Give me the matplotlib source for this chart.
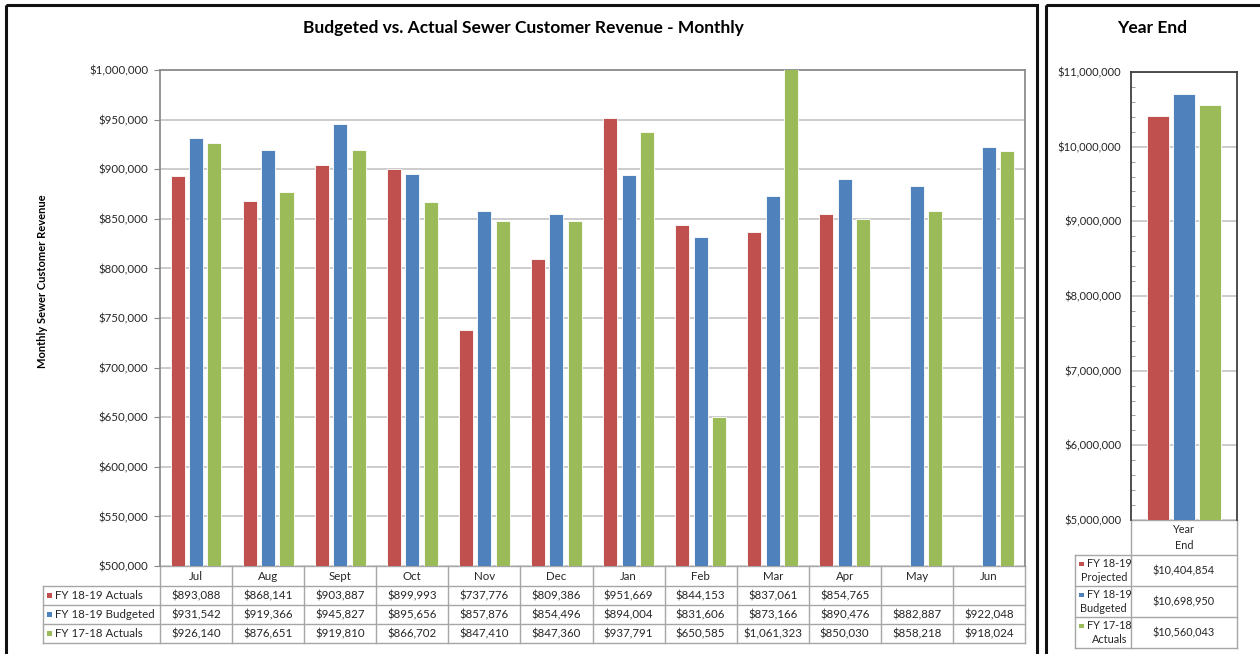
"""
Budgeted vs. actual sewer customer revenue: monthly bars + year-end bars,
each with an Excel-style data table underneath. Writes out.png.
"""

import numpy as np
import matplotlib

matplotlib.use("Agg")
import matplotlib.pyplot as plt
from matplotlib.patches import Rectangle
from matplotlib.ticker import FuncFormatter, MultipleLocator
from matplotlib.transforms import blended_transform_factory

plt.rcParams["font.family"] = ["Lato", "DejaVu Sans"]

# ---- data ------------------------------------------------------------------
months = ["Jul", "Aug", "Sept", "Oct", "Nov", "Dec",
          "Jan", "Feb", "Mar", "Apr", "May", "Jun"]
series_names = ["FY 18-19 Actuals", "FY 18-19 Budgeted", "FY 17-18 Actuals"]
fy19_actual = [893088, 868141, 903887, 899993, 737776, 809386,
               951669, 844153, 837061, 854765, np.nan, np.nan]
fy19_budget = [931542, 919366, 945827, 895656, 857876, 854496,
               894004, 831606, 873166, 890476, 882887, 922048]
fy18_actual = [926140, 876651, 919810, 866702, 847410, 847360,
               937791, 650585, 1061323, 850030, 858218, 918024]

year_end_top = ["FY 18-19", "FY 18-19", "FY 17-18"]
year_end_bottom = ["Projected", "Budgeted", "Actuals"]
year_end_vals = [10404854, 10698950, 10560043]

RED = "#C0504D"
BLUE = "#4F81BD"
GREEN = "#9BBB59"
COLORS = [RED, BLUE, GREEN]
GRID = "#BFBFBF"
TBL = "#A6A6A6"
TXT = "#262626"

W, H = 1260, 654
fig = plt.figure(figsize=(W / 100, H / 100), dpi=100)

# full-figure pixel canvas for frames / tables
bg = fig.add_axes([0, 0, 1, 1], zorder=0)
bg.set_xlim(0, W)
bg.set_ylim(H, 0)
bg.axis("off")


def px_axes(x0, y0, x1, y1, **kw):
    return fig.add_axes([x0 / W, 1 - y1 / H, (x1 - x0) / W, (y1 - y0) / H], **kw)


def money(v, _=None):
    return f"${v:,.0f}"


# panel frames
bg.add_patch(Rectangle((6, 5), 1031, 660, fill=False, lw=2.2, ec="#111111"))
bg.add_patch(Rectangle((1046, 5), 230, 660, fill=False, lw=2.2, ec="#111111"))

# ---- monthly chart ---------------------------------------------------------
L0, L1, T0, T1 = 160, 1025, 70, 566
ax = px_axes(L0, T0, L1, T1, zorder=2)
x = np.arange(len(months))
for k, (vals, c) in enumerate(zip([fy19_actual, fy19_budget, fy18_actual], COLORS)):
    ax.bar(x + (k - 1) * 0.255, vals, width=0.195, color=c,
           edgecolor="white", linewidth=0.6, zorder=3)
ax.set_xlim(-0.5, len(months) - 0.5)
ax.set_ylim(500000, 1000000)
ax.yaxis.set_major_locator(MultipleLocator(50000))
ax.yaxis.set_major_formatter(FuncFormatter(money))
ax.yaxis.grid(True, color=GRID, lw=1.1, zorder=0)
ax.set_xticks([])
ax.tick_params(axis="y", labelsize=8.3, color="#868686", length=4,
               labelcolor=TXT, pad=4.5)
for s in ax.spines.values():
    s.set_color("#8C8C8C")
    s.set_linewidth(1.3)
ax.spines["bottom"].set_visible(False)

fig.text(523 / W, 1 - 28 / H, "Budgeted vs. Actual Sewer Customer Revenue - Monthly",
         ha="center", va="center", fontsize=12.5, fontweight="bold")
fig.text(43 / W, 1 - 281 / H, "Monthly Sewer Customer Revenue", rotation=90,
         ha="center", va="center", fontsize=8, fontweight="bold")

# data table below the monthly chart
tr = blended_transform_factory(ax.transData, bg.transData)
rows_y = [566, 586, 605, 624, 643]
for y in rows_y:
    bg.plot([43 if y > 566 else L0, L1], [y, y], color=TBL, lw=1, zorder=1)
for i in range(len(months) + 1):
    ax.plot([i - 0.5, i - 0.5], [566, 643], color=TBL, lw=1,
            transform=tr, clip_on=False)
bg.plot([43, 43], [586, 643], color=TBL, lw=1)
for i, m in enumerate(months):
    ax.text(i, 576, m, transform=tr, ha="center", va="center", fontsize=8.3,
            color=TXT)
for r, (name, vals, c) in enumerate(zip(series_names,
                                        [fy19_actual, fy19_budget, fy18_actual],
                                        COLORS)):
    yc = (rows_y[r + 1] + rows_y[r + 2]) / 2
    bg.add_patch(Rectangle((47, yc - 3), 5, 5, color=c, lw=0))
    bg.text(55, yc, name, ha="left", va="center", fontsize=8.3, color=TXT)
    for i, v in enumerate(vals):
        if not np.isnan(v):
            ax.text(i, yc, money(v), transform=tr, ha="center", va="center",
                    fontsize=8.3, color=TXT)

# ---- year end chart --------------------------------------------------------
R0, R1, U0, U1 = 1131, 1237, 72, 520
ax2 = px_axes(R0, U0, R1, U1, zorder=2)
for k, (v, c) in enumerate(zip(year_end_vals, COLORS)):
    ax2.bar([(k - 1) * 0.245], [v], width=0.2, color=c,
            edgecolor="white", linewidth=0.6, zorder=3)
ax2.set_xlim(-0.5, 0.5)
ax2.set_ylim(5000000, 11000000)
ax2.yaxis.set_major_locator(MultipleLocator(1000000))
ax2.yaxis.set_minor_locator(MultipleLocator(200000))
ax2.yaxis.set_major_formatter(FuncFormatter(money))
ax2.yaxis.grid(True, color=GRID, lw=1.1, zorder=0)
ax2.set_xticks([])
ax2.tick_params(axis="y", which="major", labelsize=8, length=0,
                labelcolor=TXT, pad=7)
ax2.tick_params(axis="y", which="minor", direction="in", length=3,
                color="#8C8C8C")
for s in ax2.spines.values():
    s.set_color("#404040")
    s.set_linewidth(1.3)
ax2.spines["bottom"].set_visible(False)
fig.text(1152 / W, 1 - 28 / H, "Year End", ha="center", va="center",
         fontsize=12.5, fontweight="bold")

# year end table
ry = [520, 555, 586, 617, 648]
for y in ry:
    bg.plot([R0 if y == 520 else 1075, R1], [y, y], color=TBL, lw=1)
bg.plot([1075, 1075], [555, 648], color=TBL, lw=1)
bg.plot([R0, R0], [520, 648], color=TBL, lw=1)
bg.plot([R1, R1], [520, 648], color=TBL, lw=1)
bg.text((R0 + R1) / 2, 537.5, "Year\nEnd", ha="center", va="center",
        fontsize=7.8, linespacing=1.6, color=TXT)
for r, (top, bot, v, c) in enumerate(zip(year_end_top, year_end_bottom,
                                         year_end_vals, COLORS)):
    yc = (ry[r + 1] + ry[r + 2]) / 2
    bg.add_patch(Rectangle((1079, yc - 9), 4.5, 4.5, color=c, lw=0))
    bg.text(1087, yc - 7, top, ha="left", va="center", fontsize=7.8, color=TXT)
    bg.text(1127, yc + 7, bot, ha="right", va="center", fontsize=7.8, color=TXT)
    bg.text((R0 + R1) / 2, yc, money(v), ha="center", va="center",
            fontsize=7.8, color=TXT)

fig.savefig("out.png", dpi=100)
